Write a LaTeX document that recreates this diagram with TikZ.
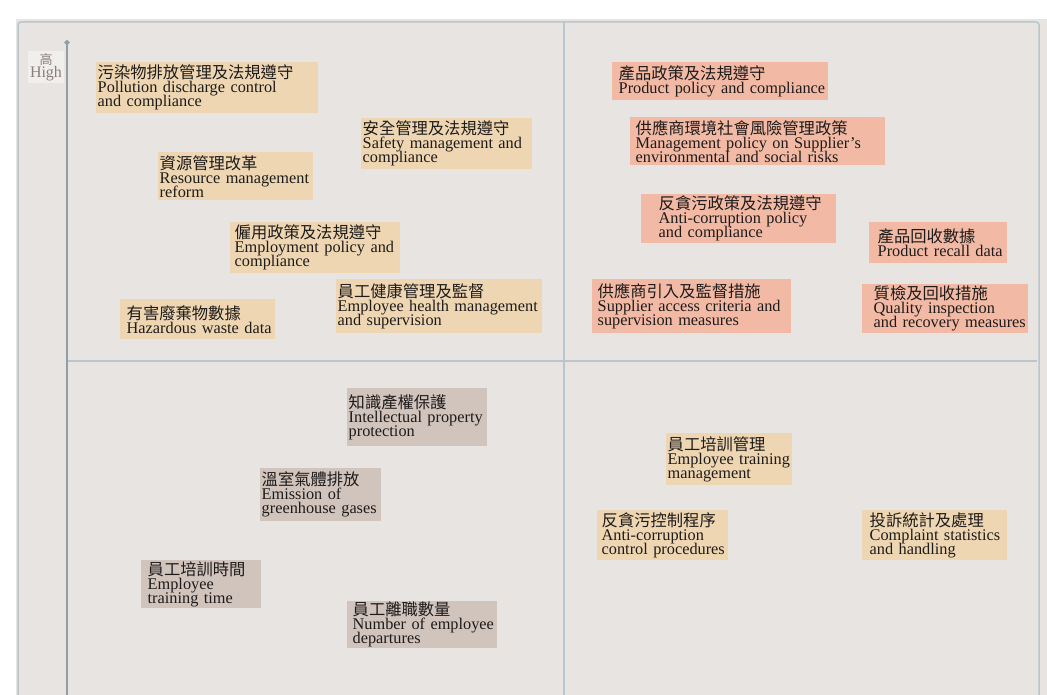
\documentclass[tikz,border=0pt]{standalone}
\usepackage{fontspec}
\setmainfont{Liberation Serif}
\newfontfamily\cjk{Noto Sans CJK TC}
\usetikzlibrary{arrows.meta}

\definecolor{panelbg}{RGB}{232,228,225}
\definecolor{framegray}{RGB}{184,198,205}
\definecolor{tanfill}{RGB}{238,214,178}
\definecolor{salmonfill}{RGB}{242,186,165}
\definecolor{mauvefill}{RGB}{209,196,189}
\definecolor{inkgray}{RGB}{30,27,27}
\definecolor{highgray}{RGB}{140,126,122}

\newcommand*\entryfont{\fontsize{16.3}{14}\selectfont\lineskiplimit=-50pt}
\tikzset{entry/.style 2 args={
    anchor=north west,
    inner xsep=1.5pt,
    inner ysep=1pt,
    text width={#2pt-3pt},
    minimum height=#1pt,
    align=left,
    text=inkgray,
    font=\entryfont
  },
  lpad/.style={execute at begin node={\leftskip=#1pt}},
  tanbox/.style={fill=tanfill},
  salmonbox/.style={fill=salmonfill},
  mauvebox/.style={fill=mauvefill},
  frameline/.style={draw=framegray, line width=1.5pt}
}

\begin{document}
\begin{tikzpicture}[x=1pt,y=-1pt]
    \useasboundingbox (0,0) rectangle (1047,695);
    \fill[panelbg] (16,19) rectangle (1047,695);

    % Frame, quadrant dividers and the axis.
    \draw[frameline, rounded corners=3pt] (18,700) -- (18,22) -- (1039,22) -- (1039,700);
    \draw[frameline] (67,361) -- (1037,361);
    \draw[frameline] (564,22) -- (564,695);
    \coordinate (axisbottom) at (67,695);
    \coordinate (axistop) at (67,40);
    \draw[frameline, draw=framegray!80!black, -{Circle[length=5pt]}] (axisbottom) -- (axistop);
    \node[fill=white!40!panelbg, inner sep=2pt, align=center, text=highgray,
          font=\fontsize{16}{13}\selectfont] (high) at (46,67) {{\cjk\fontsize{13}{13}\selectfont 高}\\High};

    % Upper left.
    %\node[entry={HEIGHT}{WIDTH}] at (LEFT,TOP) {TEXT};
    \node[entry={51}{222},tanbox] (pollution) at (96,62) {{\cjk 污染物排放管理及法規遵守}\\Pollution discharge control\\and compliance};
    \node[entry={51}{171},tanbox] (safety) at (361,118) {{\cjk 安全管理及法規遵守}\\Safety management and\\compliance};
    \node[entry={48}{155},tanbox] (resource) at (158,152) {{\cjk 資源管理改革}\\Resource management\\reform};
    \node[entry={51}{170},tanbox,lpad=3] (employment) at (230,222) {{\cjk 僱用政策及法規遵守}\\Employment policy and\\compliance};
    \node[entry={40}{155},tanbox,lpad=5] (hazardous) at (120,299) {{\cjk 有害廢棄物數據}\\Hazardous waste data};
    \node[entry={54}{206},tanbox] (health) at (336,279) {{\cjk 員工健康管理及監督}\\Employee health management\\and supervision};

    % Upper right.
    \node[entry={38}{216},salmonbox,lpad=5] (productpolicy) at (612,62) {{\cjk 產品政策及法規遵守}\\Product policy and compliance};
    \node[entry={48}{255},salmonbox,lpad=4] (supplierrisk) at (630,117) {{\cjk 供應商環境社會風險管理政策}\\Management policy on Supplier's\\environmental and social risks};
    \node[entry={49}{195},salmonbox,lpad=16] (anticorruption) at (641,194) {{\cjk 反貪污政策及法規遵守}\\Anti-corruption policy\\and compliance};
    \node[entry={41}{138},salmonbox,lpad=7] (recall) at (869,222) {{\cjk 產品回收數據}\\Product recall data};
    \node[entry={54}{199},salmonbox,lpad=4] (supplieraccess) at (592,279) {{\cjk 供應商引入及監督措施}\\Supplier access criteria and\\supervision measures};
    \node[entry={49}{166},salmonbox,lpad=10] (quality) at (862,284) {{\cjk 質檢及回收措施}\\Quality inspection\\and recovery measures};

    % Lower left.
    \node[entry={58}{140},mauvebox] (property) at (347,388) {{\cjk 知識產權保護}\\Intellectual property\\protection};
    \node[entry={53}{121},mauvebox] (emission) at (260,468) {{\cjk 溫室氣體排放}\\Emission of\\greenhouse gases};
    \node[entry={48}{120},mauvebox,lpad=5] (trainingtime) at (141,560) {{\cjk 員工培訓時間}\\Employee\\training time};
    \node[entry={47}{150},mauvebox,lpad=4] (departures) at (347,601) {{\cjk 員工離職數量}\\Number of employee\\departures};

    % Lower right.
    \node[entry={52}{126},tanbox] (trainingmgmt) at (666,433) {{\cjk 員工培訓管理}\\Employee training\\management};
    \node[entry={50}{131},tanbox,lpad=3] (controlproc) at (597,510) {{\cjk 反貪污控制程序}\\Anti-corruption\\control procedures};
    \node[entry={50}{145},tanbox,lpad=6] (complaint) at (862,510) {{\cjk 投訴統計及處理}\\Complaint statistics\\and handling};

\end{tikzpicture}
\end{document}
